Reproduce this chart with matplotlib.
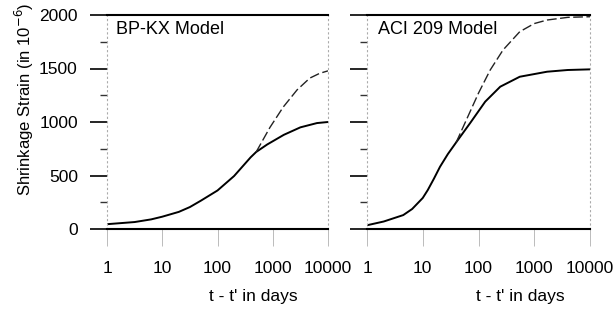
import matplotlib
matplotlib.use("Agg")
import matplotlib.pyplot as plt
import numpy as np

plt.rcParams['font.family'] = ['Liberation Sans', 'DejaVu Sans']

# ---- data ----
# BP-KX model (left panel)
bp_low_logt = [0, 0.5, 0.8, 1.0, 1.3, 1.5, 1.7, 2.0, 2.3, 2.6, 2.7, 2.9, 3.2, 3.5, 3.8, 4.0]
bp_low_val  = [45, 65, 90, 115, 160, 205, 265, 360, 495, 670, 720, 790, 880, 950, 990, 1000]
bp_up_logt  = [2.7, 2.95, 3.19, 3.44, 3.67, 3.85, 4.0]
bp_up_val   = [720, 950, 1140, 1300, 1410, 1455, 1478]

# ACI 209 model (right panel)
aci_low_logt = [0, 0.3, 0.65, 0.81, 1.0, 1.09, 1.2, 1.31, 1.45, 1.6, 1.85, 2.12, 2.39, 2.74, 3.23, 3.6, 4.0]
aci_low_val  = [35, 70, 130, 187, 290, 364, 470, 582, 700, 810, 990, 1190, 1330, 1423, 1470, 1486, 1492]
aci_up_logt  = [1.6, 1.8, 2.0, 2.21, 2.44, 2.74, 3.0, 3.23, 3.6, 4.0]
aci_up_val   = [810, 1040, 1270, 1486, 1673, 1844, 1920, 1953, 1978, 1984]

panel_titles = ["BP-KX Model", "ACI 209 Model"]
x_ticks = [1, 10, 100, 1000, 10000]
x_ticklabels = ["1", "10", "100", "1000", "10000"]
y_ticks = [0, 500, 1000, 1500, 2000]
y_minor = [250, 750, 1250, 1750]
y_label = "Shrinkage Strain (in 10$^{-6}$)"
x_label = "t - t' in days"

W, H = 614, 310
fig = plt.figure(figsize=(W / 100, H / 100), dpi=100)

def px_axes(x0, x1, ytop, ybot):
    return fig.add_axes([x0 / W, (H - ybot) / H, (x1 - x0) / W, (ybot - ytop) / H])

ax1 = px_axes(107, 328, 15, 229)
ax2 = px_axes(367, 590, 15, 229)

series = [
    (ax1, bp_low_logt, bp_low_val, bp_up_logt, bp_up_val),
    (ax2, aci_low_logt, aci_low_val, aci_up_logt, aci_up_val),
]

for i, (ax, ll, lv, ul, uv) in enumerate(series):
    ax.plot(10 ** np.array(ll), lv, color='black', lw=1.4, solid_capstyle='round')
    ax.plot(10 ** np.array(ul), uv, color='#222222', lw=1.0, linestyle=(0, (7, 2.5)))
    ax.set_xscale('log')
    ax.set_xlim(1, 10000)
    ax.set_ylim(0, 2000)
    ax.set_xticks(x_ticks)
    ax.set_xticklabels(x_ticklabels)
    ax.xaxis.set_minor_locator(matplotlib.ticker.NullLocator())
    ax.set_yticks(y_ticks)
    ax.set_yticks(y_minor, minor=True)
    if i == 0:
        ax.set_yticklabels([str(v) for v in y_ticks])
    else:
        ax.set_yticklabels([])
    ax.tick_params(axis='y', which='major', direction='out', length=12, width=1.2,
                   pad=9, labelsize=12.5, color='black')
    ax.tick_params(axis='y', which='minor', direction='out', length=5, width=1.0,
                   color='#333333')
    ax.tick_params(axis='x', which='major', direction='out', length=12, width=0.7,
                   pad=11, labelsize=12.5, color='#bbbbbb')
    for s in ['top', 'bottom']:
        ax.spines[s].set_linewidth(1.5)
        ax.spines[s].set_color('black')
    for s in ['left', 'right']:
        ax.spines[s].set_linewidth(0.8)
        ax.spines[s].set_color('#aaaaaa')
        ax.spines[s].set_linestyle((0, (1, 3)))
    ax.text(0.04 if i == 0 else 0.05, 0.93, panel_titles[i], transform=ax.transAxes,
            fontsize=13, ha='left', va='center')

fig.text(24 / W, 1 - 99 / H, y_label, rotation=90, ha='center', va='center', fontsize=12)
fig.text(253 / W, 1 - 297 / H, x_label, ha='center', va='center', fontsize=12.5)
fig.text(520 / W, 1 - 297 / H, x_label, ha='center', va='center', fontsize=12.5)

fig.savefig("out.png", dpi=100)
